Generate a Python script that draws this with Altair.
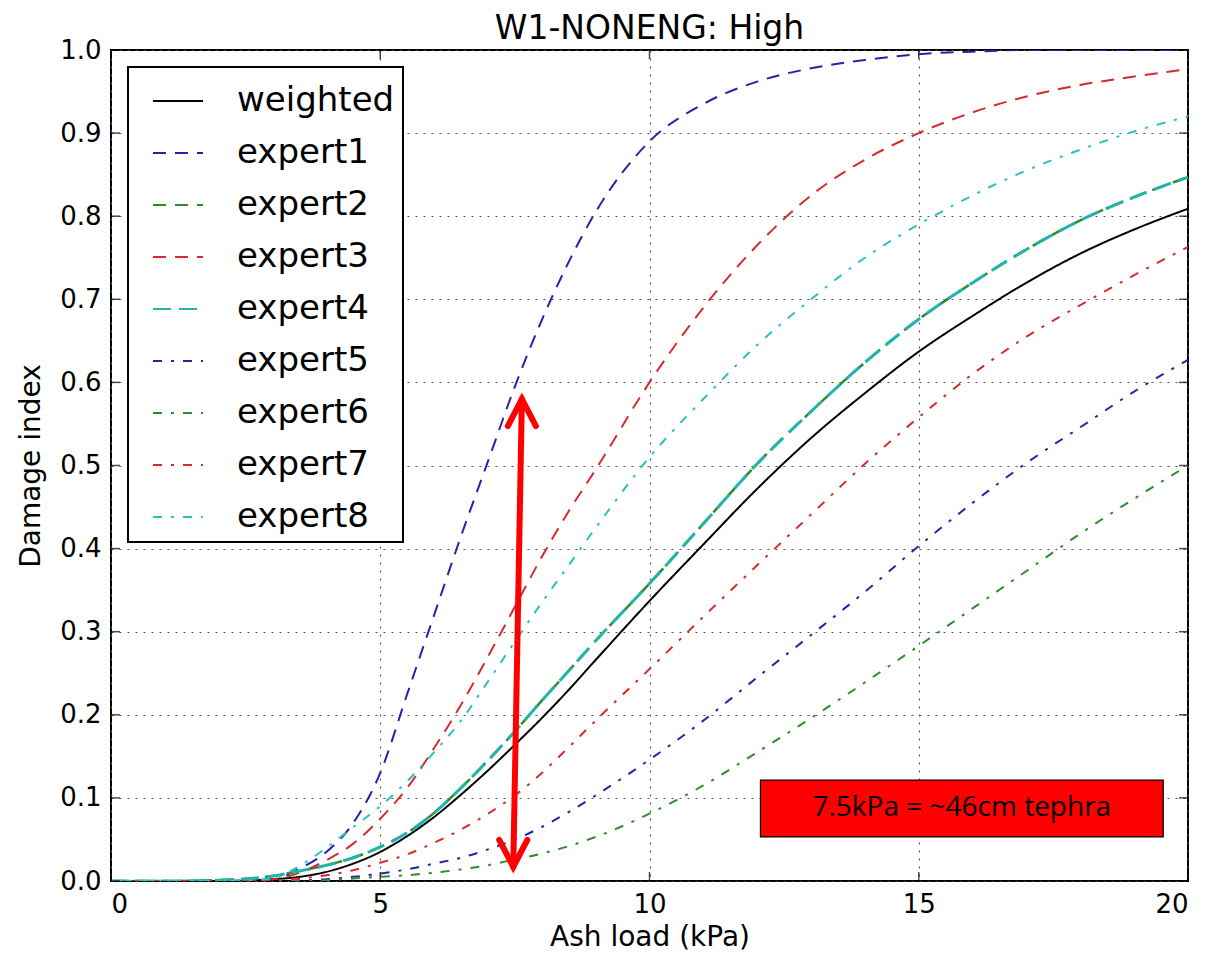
import altair as alt
import pandas as pd

# ---------------- data ----------------
ash_load = [0, 1, 2, 3, 3.5, 4, 4.5, 5, 5.5, 6, 6.5, 7, 7.5, 8, 8.5, 9,
            10, 11, 12, 13, 14, 15, 16, 17, 18, 19, 20]

weighted = [0, 0, 0, 0.002, 0.005, 0.011, 0.021, 0.035, 0.054, 0.077, 0.104, 0.133, 0.164, 0.196, 0.23, 0.266,
            0.337, 0.405, 0.472, 0.533, 0.587, 0.637, 0.68, 0.72, 0.755, 0.784, 0.809]
expert1 = [0, 0, 0, 0.002, 0.015, 0.035, 0.07, 0.13, 0.225, 0.32, 0.415, 0.505, 0.595, 0.675, 0.745, 0.805,
           0.89, 0.935, 0.962, 0.978, 0.988, 0.995, 0.998, 1.0, 1.0, 1.0, 1.0]
expert2 = [0, 0, 0.001, 0.006, 0.012, 0.019, 0.028, 0.041, 0.058, 0.082, 0.112, 0.145, 0.18, 0.217, 0.253, 0.289,
           0.358, 0.43, 0.502, 0.565, 0.624, 0.676, 0.72, 0.76, 0.795, 0.823, 0.847]
expert3 = [0, 0, 0, 0.002, 0.01, 0.025, 0.045, 0.075, 0.112, 0.16, 0.212, 0.27, 0.33, 0.39, 0.445, 0.495,
           0.6, 0.69, 0.765, 0.825, 0.868, 0.9, 0.925, 0.944, 0.958, 0.968, 0.977]
expert4 = [0, 0, 0.001, 0.006, 0.012, 0.019, 0.028, 0.041, 0.058, 0.082, 0.112, 0.145, 0.18, 0.217, 0.253, 0.289,
           0.358, 0.43, 0.502, 0.565, 0.624, 0.676, 0.72, 0.76, 0.795, 0.823, 0.847]
expert5 = [0, 0, 0, 0, 0.001, 0.002, 0.005, 0.009, 0.014, 0.021, 0.028, 0.038, 0.05, 0.065, 0.083, 0.103,
           0.146, 0.193, 0.245, 0.296, 0.348, 0.403, 0.455, 0.503, 0.546, 0.589, 0.627]
expert6 = [0, 0, 0, 0, 0, 0.001, 0.003, 0.005, 0.007, 0.01, 0.014, 0.019, 0.026, 0.033, 0.042, 0.053,
           0.081, 0.115, 0.155, 0.196, 0.239, 0.283, 0.328, 0.373, 0.418, 0.46, 0.5]
expert7 = [0, 0, 0, 0.001, 0.003, 0.007, 0.013, 0.022, 0.032, 0.046, 0.062, 0.081, 0.103, 0.13, 0.161, 0.193,
           0.255, 0.318, 0.38, 0.441, 0.502, 0.558, 0.61, 0.655, 0.693, 0.729, 0.763]
expert8 = [0, 0, 0, 0.003, 0.018, 0.04, 0.065, 0.09, 0.12, 0.155, 0.193, 0.24, 0.288, 0.335, 0.38, 0.425,
           0.51, 0.58, 0.645, 0.70, 0.75, 0.79, 0.825, 0.855, 0.88, 0.902, 0.92]

series_names = ["weighted", "expert1", "expert2", "expert3", "expert4",
                "expert5", "expert6", "expert7", "expert8"]
series_values = [weighted, expert1, expert2, expert3, expert4,
                 expert5, expert6, expert7, expert8]

x_ticks = [0, 5, 10, 15, 20]
y_ticks = [0.0, 0.1, 0.2, 0.3, 0.4, 0.5, 0.6, 0.7, 0.8, 0.9, 1.0]

# annotation (data units)
arrow_x = [7.47, 7.63]
arrow_y = [0.017, 0.58]
note_text = "7.5kPa = ~46cm tephra"
note_x = [12.06, 19.54]
note_y = [0.053, 0.1215]

# ---------------- styles ----------------
series_colors = ["#000000", "#2424aa", "#2e8b2e", "#d42c2c", "#22b4aa",
                 "#2424aa", "#2e8b2e", "#d42c2c", "#2bbfbf"]
series_dashes = [[1, 0], [13, 9], [13, 9], [13, 9], [18, 8],
                 [9, 9, 3, 9], [9, 9, 3, 9], [9, 9, 3, 9], [9, 9, 3, 9]]
series_widths = [2, 2, 2.5, 2, 3, 2, 2, 2, 2]

rows = []
for name, vals, w in zip(series_names, series_values, series_widths):
    for x, y in zip(ash_load, vals):
        rows.append({"series": name, "x": x, "y": y, "sw": w})
df = pd.DataFrame(rows)

W, H = 1077, 831
FONT = "DejaVu Sans"

xs = alt.Scale(domain=[0, 20], nice=False, zero=False)
ys = alt.Scale(domain=[0, 1], nice=False, zero=False)

x_axis = alt.Axis(title="Ash load (kPa)", values=x_ticks, format="d", ticks=False,
                  domain=False, grid=True, labelPadding=10, titlePadding=6)
y_axis = alt.Axis(title="Damage index", values=y_ticks, format=".1f", ticks=False,
                  domain=False, grid=True, labelPadding=10, titlePadding=14)

X = alt.X("x:Q", scale=xs, axis=x_axis)
Y = alt.Y("y:Q", scale=ys, axis=y_axis)

lines = alt.Chart(df).mark_line(interpolate="monotone", clip=True).encode(
    x=X, y=Y,
    color=alt.Color("series:N", scale=alt.Scale(domain=series_names, range=series_colors),
                    sort=series_names, title=None),
    strokeDash=alt.StrokeDash("series:N", scale=alt.Scale(domain=series_names, range=series_dashes),
                              sort=series_names, title=None),
    strokeWidth=alt.StrokeWidth("sw:Q", scale=None, legend=None),
)

arrow_df = pd.DataFrame({"x": arrow_x, "y": arrow_y})
shaft = alt.Chart(arrow_df).mark_line(color="#ff0000", strokeWidth=6, strokeCap="round").encode(x=X, y=Y)

head_bottom = alt.Chart(arrow_df.iloc[[0]]).mark_point(
    shape="M-0.52,-1L0,0L0.52,-1", filled=False, stroke="#ff0000", strokeWidth=6,
    strokeCap="round", size=2916, opacity=1).encode(x=X, y=Y)
head_top = alt.Chart(arrow_df.iloc[[1]]).mark_point(
    shape="M-0.52,1L0,0L0.52,1", filled=False, stroke="#ff0000", strokeWidth=6,
    strokeCap="round", size=2916, opacity=1).encode(x=X, y=Y)

note_df = pd.DataFrame({"x": [note_x[0]], "x2": [note_x[1]], "y": [note_y[0]], "y2": [note_y[1]],
                        "xm": [(note_x[0] + note_x[1]) / 2], "ym": [(note_y[0] + note_y[1]) / 2],
                        "label": [note_text]})
note_box = alt.Chart(note_df).mark_rect(fill="#ff0000", stroke="#000000", strokeWidth=1.2).encode(
    x=X, x2="x2:Q", y=Y, y2="y2:Q")
note_label = alt.Chart(note_df).mark_text(font="Open Sans", fontSize=28, color="#000000",
                                          align="center", baseline="middle").encode(
    x=alt.X("xm:Q", scale=xs, axis=x_axis), y=alt.Y("ym:Q", scale=ys, axis=y_axis), text="label:N")

xt = pd.DataFrame({"x": x_ticks})
yt = pd.DataFrame({"y": y_ticks})
tick_b = alt.Chart(xt).mark_tick(orient="vertical", size=9, yOffset=-4.5, color="black", thickness=1.5).encode(
    x=X, y=alt.value(H))
tick_t = alt.Chart(xt).mark_tick(orient="vertical", size=9, yOffset=4.5, color="black", thickness=1.5).encode(
    x=X, y=alt.value(0))
tick_l = alt.Chart(yt).mark_tick(orient="horizontal", size=9, xOffset=4.5, color="black", thickness=1.5).encode(
    y=Y, x=alt.value(0))
tick_r = alt.Chart(yt).mark_tick(orient="horizontal", size=9, xOffset=-4.5, color="black", thickness=1.5).encode(
    y=Y, x=alt.value(W))

chart = alt.layer(
    lines, shaft, head_bottom, head_top, note_box, note_label, tick_b, tick_t, tick_l, tick_r
).properties(
    width=W, height=H,
    title=alt.TitleParams("W1-NONENG: High", font=FONT, fontSize=33, fontWeight="normal",
                          color="black", offset=11, frame="group", dy=20),
    autosize=alt.AutoSizeParams(type="none"),
    padding={"left": 103, "top": 42, "right": 14, "bottom": 70},
).configure_view(
    stroke="black", strokeWidth=2
).configure_axis(
    labelFont=FONT, labelFontSize=26, labelColor="black",
    titleFont=FONT, titleFontSize=28, titleFontWeight="normal", titleColor="black",
    gridColor="#555555", gridDash=[2, 6], gridWidth=1.2, gridOpacity=1,
).configure_legend(
    orient="none", legendX=17, legendY=17,
    strokeColor="black", strokeWidth=2, fillColor="white", cornerRadius=0,
    padding=8, symbolOffset=16, symbolType="stroke", symbolSize=2500, symbolStrokeWidth=2,
    labelFont=FONT, labelFontSize=34, labelColor="black", labelOffset=33,
    rowPadding=9, labelLimit=400,
)

chart.save("out.html", embed_options={"renderer": "svg", "actions": False})
